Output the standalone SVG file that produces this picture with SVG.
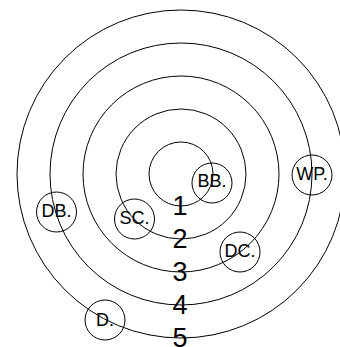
<svg xmlns="http://www.w3.org/2000/svg" width="340" height="347" viewBox="0 0 340 347">
<style>
.ring{fill:none;stroke:#000;stroke-width:1}
.node circle{fill:none;stroke:#000;stroke-width:1}
.lbl{font-family:"Liberation Sans",Arial,sans-serif;font-size:18px;text-anchor:middle;fill:#000}
.num{font-family:"Liberation Sans",Arial,sans-serif;font-size:27px;text-anchor:middle;fill:#000}
</style>
<rect width="340" height="347" fill="#fff"/>
<g id="rings">
<circle class="ring" cx="181" cy="174" r="32"/>
<circle class="ring" cx="181" cy="174" r="65"/>
<circle class="ring" cx="181" cy="174" r="98"/>
<circle class="ring" cx="181" cy="174" r="131"/>
<circle class="ring" cx="181" cy="174" r="164"/>
</g>
<g id="numbers">
<text class="num" x="180" y="215">1</text>
<text class="num" x="180" y="248">2</text>
<text class="num" x="180" y="281">3</text>
<text class="num" x="180" y="314">4</text>
<text class="num" x="180" y="347">5</text>
</g>
<g id="connectors"></g>
<g id="BB" class="node"><circle cx="212" cy="183" r="20"/><text class="lbl" x="212" y="187">BB.</text></g>
<g id="WP" class="node"><circle cx="312" cy="175" r="20"/><text class="lbl" x="312" y="180">WP.</text></g>
<g id="DB" class="node"><circle cx="56.5" cy="212" r="20"/><text class="lbl" x="56.5" y="217">DB.</text></g>
<g id="SC" class="node"><circle cx="134.5" cy="219" r="20"/><text class="lbl" x="134.5" y="224">SC.</text></g>
<g id="DC" class="node"><circle cx="240" cy="252" r="20"/><text class="lbl" x="240" y="257">DC.</text></g>
<g id="D" class="node"><circle cx="105" cy="320" r="20"/><text class="lbl" x="105" y="326">D.</text></g>
</svg>
